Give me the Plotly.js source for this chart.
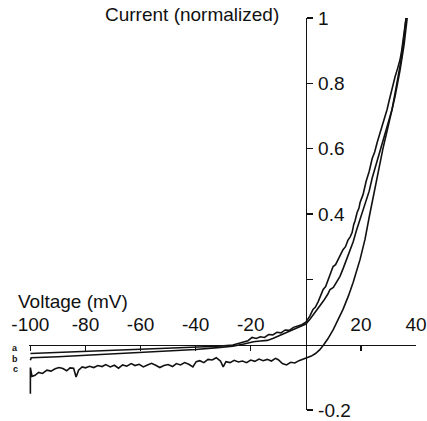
<!DOCTYPE html>
<html>
<head>
<meta charset="utf-8">
<script src="https://cdn.plot.ly/plotly-3.0.1.min.js"></script>
<style>html,body{margin:0;padding:0;background:#fff;}#chart{width:427px;height:421px;}</style>
</head>
<body>
<div id="chart"></div>
<script>
// Curve a (upper)
const aVoltage = [-100,-90,-80,-70,-60,-50,-40,-32,-26.5,-23,-21,-19.5,-18,-16.5,-15,-13.5,-12,-10.5,-9,-7.5,-6,-4.5,-3,-1.5,0,1.5,2.6,3.5,4.5,5.5,6.3,7.2,8.1,9,9.9,10.8,11.7,12.6,13.5,14.4,15.3,16.1,16.8,17.4,17.9,18.6,19.3,19.7,20.8,21.9,23,24.1,25,25.9,26.8,27.7,28.6,29.5,30.2,30.9,31.7,32.4,33.3,34.2,34.8,35.3,35.9,36.4];
const aCurrent = [-0.027,-0.024,-0.021,-0.017,-0.014,-0.011,-0.008,-0.005,-0.001,0.006,0.012,0.022,0.019,0.024,0.022,0.031,0.030,0.038,0.036,0.045,0.044,0.053,0.058,0.061,0.069,0.088,0.108,0.115,0.132,0.150,0.169,0.178,0.200,0.218,0.239,0.245,0.262,0.275,0.291,0.300,0.320,0.330,0.343,0.368,0.380,0.404,0.418,0.435,0.460,0.500,0.530,0.570,0.590,0.619,0.645,0.670,0.690,0.720,0.745,0.770,0.795,0.820,0.845,0.872,0.900,0.930,0.965,1.0];
// Curve b (middle)
const bVoltage = [-100,-99.7,-90,-80,-70,-60,-50,-40,-32,-26.5,-22.5,-19,-16.5,-14,-12,-10.4,-8.5,-6.8,-5,-3.2,-1.5,0,1.5,3.4,5,6.5,8,8.8,10,11.2,12.4,13.5,14.8,16.1,17.2,18.4,19.7,20.8,21.9,23,24.1,25.5,26.6,27.7,29.5,31.3,32.4,33.5,34.6,35.5,36.4];
const bCurrent = [-0.048,-0.040,-0.037,-0.033,-0.029,-0.025,-0.020,-0.015,-0.009,-0.005,0.002,0.009,0.011,0.013,0.019,0.025,0.031,0.038,0.046,0.053,0.058,0.063,0.078,0.099,0.115,0.135,0.155,0.169,0.175,0.192,0.209,0.232,0.260,0.291,0.315,0.350,0.383,0.410,0.435,0.470,0.510,0.550,0.585,0.619,0.670,0.720,0.770,0.820,0.872,0.930,1.0];
// Curve c (lower, noisy)
const cVoltage = [-100,-100,-99.4,-98.3,-97,-95.6,-94,-92.5,-91,-89.6,-88.2,-86.8,-85.6,-84.3,-83.4,-82.5,-81.2,-80,-78.5,-77,-75.5,-74,-72.6,-71,-69.5,-68,-66.5,-65,-63.4,-62,-60.5,-59,-57.5,-56,-54.5,-53,-51.5,-50,-48.4,-47,-45.5,-44,-42.5,-41,-39.8,-38.5,-37,-35.5,-34,-32.5,-31,-30,-29,-27.5,-26,-24.5,-23,-21.5,-20,-18.5,-17,-15.5,-14,-12.5,-11,-10,-8.5,-7,-5.5,-4,-2.5,-1,0.5,2,3.5,5,6.5,8,10,12,13.5,15.5,17.2,19.7,21.5,23,24.4,26.2,28,30.2,32.4,34.2,35.7,36.8];
const cCurrent = [-0.150,-0.070,-0.097,-0.094,-0.085,-0.088,-0.078,-0.081,-0.074,-0.070,-0.073,-0.080,-0.071,-0.072,-0.099,-0.078,-0.068,-0.071,-0.066,-0.070,-0.064,-0.067,-0.061,-0.068,-0.063,-0.072,-0.062,-0.066,-0.058,-0.064,-0.060,-0.068,-0.062,-0.057,-0.063,-0.070,-0.064,-0.061,-0.067,-0.058,-0.062,-0.055,-0.060,-0.068,-0.052,-0.049,-0.055,-0.045,-0.047,-0.040,-0.050,-0.068,-0.052,-0.055,-0.048,-0.053,-0.050,-0.055,-0.047,-0.051,-0.044,-0.049,-0.045,-0.050,-0.042,-0.046,-0.058,-0.062,-0.054,-0.056,-0.049,-0.045,-0.040,-0.035,-0.027,-0.016,0.000,0.018,0.047,0.080,0.108,0.150,0.191,0.261,0.323,0.390,0.450,0.530,0.600,0.680,0.760,0.840,0.920,1.0];

const xTickVals = [-100,-80,-60,-40,-20,20,40];
const xTickText = ['-100','-80','-60','-40','-20','20','40'];
const yTickVals = [-0.2,0.2,0.4,0.6,0.8,1];
const yTickText = ['-0.2','','0.4','0.6','0.8','1'];
const curveLabels = ['a','b','c'];

const xRange = [-100.5, 40];
const yRange = [-0.2, 1.0];
const FONT = 'Liberation Sans, Arial, Helvetica, sans-serif';
const lineStyle = {color:'#111', width:1.6};

// pixel helpers for placing text labels in paper coordinates
const M = {l:29, r:11, t:18, b:11};
const PW = 427 - M.l - M.r, PH = 421 - M.t - M.b;
const px2paperX = p => (p - M.l) / PW;
const px2paperY = p => 1 - (p - M.t) / PH;

const traces = [
  {x:aVoltage, y:aCurrent, mode:'lines', line:lineStyle, name:'a'},
  {x:bVoltage, y:bCurrent, mode:'lines', line:lineStyle, name:'b'},
  {x:cVoltage, y:cCurrent, mode:'lines', line:lineStyle, name:'c'}
];

const labelPxY = [348, 358.5, 369];
const annotations = [
  {text:'Current (normalized)', xref:'paper', yref:'paper', x:px2paperX(192), y:px2paperY(15), xanchor:'center', yanchor:'middle', showarrow:false, font:{family:FONT, size:19, color:'#111'}},
  {text:'Voltage (mV)', xref:'paper', yref:'paper', x:px2paperX(73), y:px2paperY(301), xanchor:'center', yanchor:'middle', showarrow:false, font:{family:FONT, size:19, color:'#111'}}
];
curveLabels.forEach((t,i)=>annotations.push({text:'<b>'+t+'</b>', xref:'paper', yref:'paper', x:px2paperX(15), y:px2paperY(labelPxY[i]), xanchor:'center', yanchor:'middle', showarrow:false, borderpad:0, font:{family:FONT, size:9, color:'#111'}}));

const layout = {
  width:427, height:421,
  margin:{l:M.l, r:M.r, t:M.t, b:M.b, pad:0},
  paper_bgcolor:'#fff', plot_bgcolor:'#fff',
  showlegend:false,
  font:{family:FONT, size:19, color:'#111'},
  xaxis:{range:xRange, anchor:'free', position:(0-yRange[0])/(yRange[1]-yRange[0]), side:'top',
    showline:true, linecolor:'#111', linewidth:1.5, ticks:'inside', ticklen:5, tickwidth:1.5, tickcolor:'#111',
    tickvals:xTickVals, ticktext:xTickText, showgrid:false, zeroline:false, ticklabelstandoff:6,
    tickfont:{family:FONT, size:19, color:'#111'}},
  yaxis:{range:yRange, anchor:'free', position:(0-xRange[0])/(xRange[1]-xRange[0]), side:'right',
    showline:true, linecolor:'#111', linewidth:1.5, ticks:'outside', ticklen:6, tickwidth:1.5, tickcolor:'#111',
    tickvals:yTickVals, ticktext:yTickText, showgrid:false, zeroline:false, ticklabelstandoff:1,
    tickfont:{family:FONT, size:19, color:'#111'}},
  annotations:annotations
};

Plotly.newPlot('chart', traces, layout, {staticPlot:true, displayModeBar:false});
</script>
</body>
</html>
